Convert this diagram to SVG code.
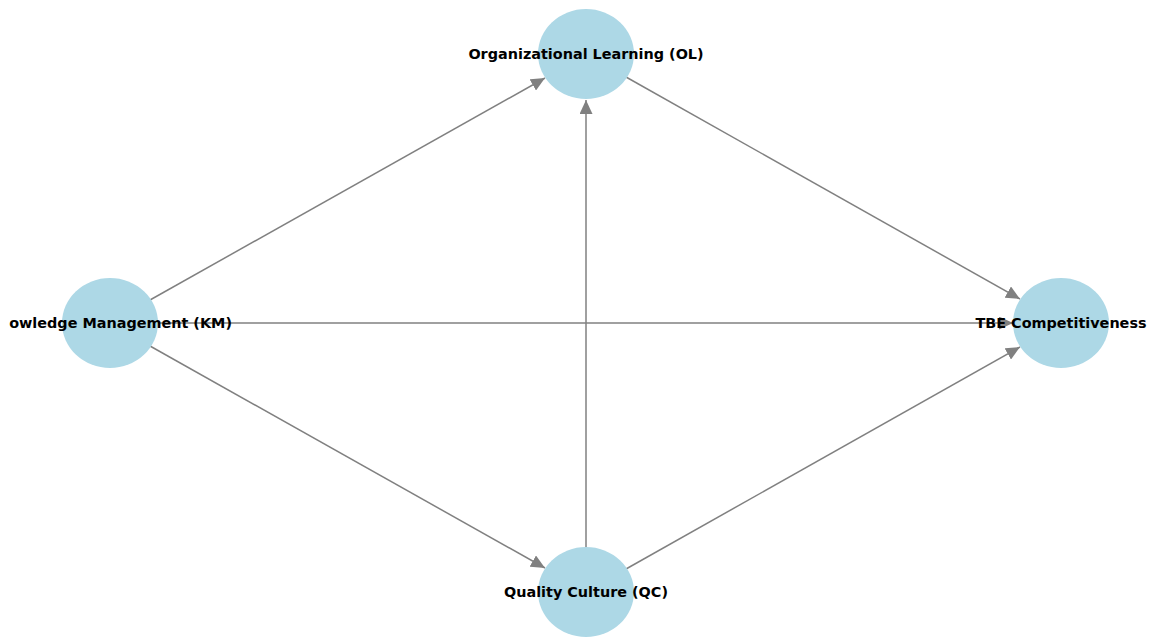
<svg xmlns="http://www.w3.org/2000/svg" width="1151" height="637" viewBox="0 0 1151 637">
<style>
.edge{stroke:#808080;stroke-width:1.5;fill:none}
.node{fill:#add8e6}
.lbl{font-family:"DejaVu Sans",sans-serif;font-weight:bold;font-size:14.4px;fill:#000;text-anchor:middle}
</style>
<defs>
<marker id="ah" markerUnits="userSpaceOnUse" markerWidth="14" markerHeight="13" viewBox="0 0 14 13" refX="14" refY="6.5" orient="auto">
<path d="M0,0 L14,6.5 L0,13 Z" fill="#808080"/>
</marker>
</defs>
<rect width="1151" height="637" fill="#fff"/>
<g id="connectors">
<line class="edge" x1="150" y1="300" x2="545" y2="78" marker-end="url(#ah)"/>
<line class="edge" x1="158" y1="323" x2="1013" y2="323" marker-end="url(#ah)"/>
<line class="edge" x1="150" y1="346" x2="545" y2="568" marker-end="url(#ah)"/>
<line class="edge" x1="586" y1="547" x2="586" y2="100" marker-end="url(#ah)"/>
<line class="edge" x1="626" y1="77" x2="1020" y2="299" marker-end="url(#ah)"/>
<line class="edge" x1="626" y1="569" x2="1020" y2="347" marker-end="url(#ah)"/>
</g>
<g id="node-OL">
<ellipse class="node" cx="586" cy="54" rx="48" ry="45"/>
<text class="lbl" x="586" y="59">Organizational Learning (OL)</text>
</g>
<g id="node-KM">
<ellipse class="node" cx="110" cy="323" rx="48" ry="45"/>
<text class="lbl" x="232" y="328" style="text-anchor:end">owledge Management (KM)</text>
</g>
<g id="node-TBE">
<ellipse class="node" cx="1061" cy="323" rx="48" ry="45"/>
<text class="lbl" x="1061" y="328">TBE Competitiveness</text>
</g>
<g id="node-QC">
<ellipse class="node" cx="586" cy="592" rx="48" ry="45"/>
<text class="lbl" x="586" y="597">Quality Culture (QC)</text>
</g>
</svg>
